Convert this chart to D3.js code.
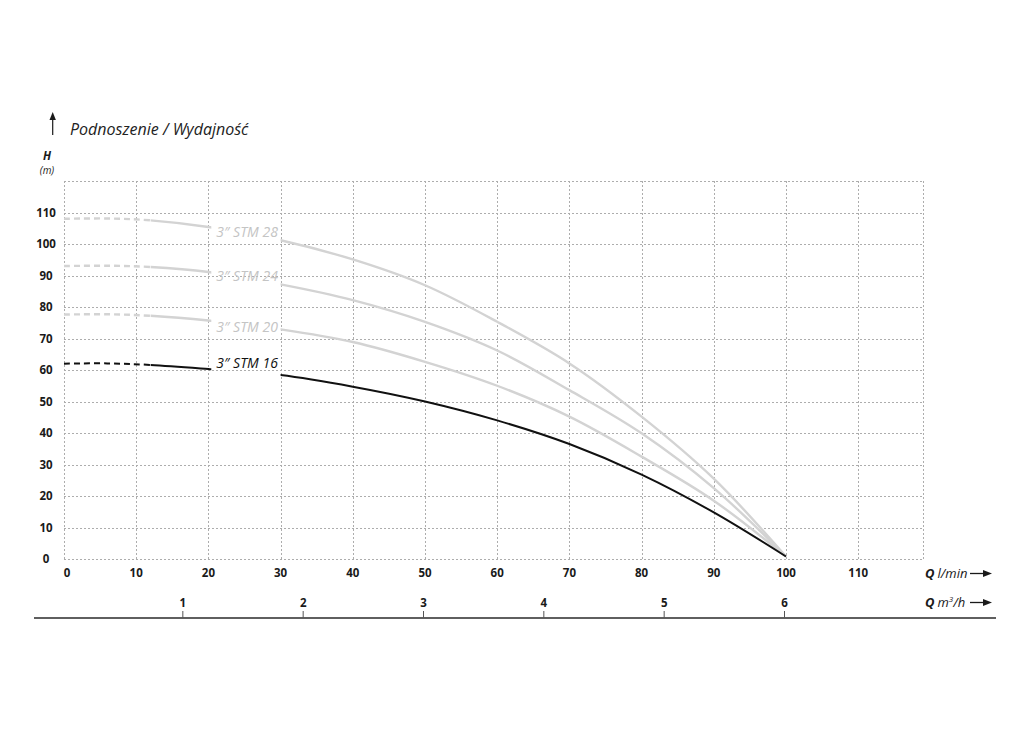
<!DOCTYPE html>
<html>
<head>
<meta charset="utf-8">
<script src="https://cdn.jsdelivr.net/npm/d3@7"></script>
<style>
  html, body { margin: 0; padding: 0; background: #fff; }
  svg { display: block; }
  text { font-family: "Open Sans", "Liberation Sans", sans-serif; }
</style>
</head>
<body>
<svg id="chart" width="1024" height="732"></svg>
<script>
// ---- data ----
const flowPoints = [0, 6, 12, 20, 30, 40, 50, 60, 70, 80, 90, 100];          // l/min
const stm16 = [62, 62.1, 61.6, 60.3, 58.4, 54.7, 50, 44, 36.5, 26.8, 14.8, 0.8];
const stm20 = [77.6, 77.7, 77.2, 75.7, 72.9, 68.9, 62.6, 55, 45.2, 32.5, 18.5, 0.8];
const stm24 = [93, 93.1, 92.7, 91.1, 87.2, 82.2, 75.3, 66.2, 53.6, 39.9, 22.5, 0.8];
const stm28 = [108, 108.1, 107.5, 105.4, 101.2, 95.1, 86.9, 75.3, 62.1, 45.2, 25.5, 0.8];
const seriesNames = ['3″ STM 28', '3″ STM 24', '3″ STM 20', '3″ STM 16'];
const labelHeads = [102.2, 88.2, 72.1, 60.5];   // label baseline in metres
const labelFlow = 21.1;                         // label start in l/min
const yTicks = [0, 10, 20, 30, 40, 50, 60, 70, 80, 90, 100, 110];
const xTicks = [0, 10, 20, 30, 40, 50, 60, 70, 80, 90, 100, 110];
const m3hTicks = [1, 2, 3, 4, 5, 6];
const title = "Podnoszenie / Wydajność";

// ---- scales ----
const svg = d3.select("#chart");
const x = d3.scaleLinear().domain([0, 100]).range([64, 786]);
const y = d3.scaleLinear().domain([0, 120]).range([559, 181]);
const xm3 = d3.scaleLinear().domain([0, 6]).range([x(0), x(100)]);
const xMax = 119;

// ---- grid ----
const grid = svg.append("g").attr("stroke", "#adadad").attr("stroke-width", 1)
  .attr("stroke-dasharray", "2,2").attr("fill", "none");
[...xTicks, xMax].forEach(v => {
  grid.append("line").attr("x1", Math.round(x(v)) + 0.5).attr("x2", Math.round(x(v)) + 0.5)
    .attr("y1", y(120)).attr("y2", y(0));
});
[...yTicks, 120].forEach(v => {
  grid.append("line").attr("y1", Math.round(y(v)) + 0.5).attr("y2", Math.round(y(v)) + 0.5)
    .attr("x1", x(0)).attr("x2", x(xMax));
});

// ---- y labels ----
svg.append("g").selectAll("text").data(yTicks).join("text")
  .attr("x", 46).attr("y", d => y(d)).attr("dy", "0.36em")
  .attr("text-anchor", "middle").attr("font-weight", "bold").attr("font-size", 11.5)
  .attr("fill", "#1a1a1a").text(d => d);

// ---- x labels ----
svg.append("g").selectAll("text").data(xTicks).join("text")
  .attr("x", d => x(d) + (d === 0 ? 3 : 0)).attr("y", 577)
  .attr("text-anchor", "middle").attr("font-weight", "bold").attr("font-size", 11.5)
  .attr("fill", "#1a1a1a").text(d => d);

// ---- secondary axis (m3/h) ----
svg.append("line").attr("x1", 34).attr("x2", 996).attr("y1", 618).attr("y2", 618)
  .attr("stroke", "#2a2a2a").attr("stroke-width", 1.5);
const m3 = svg.append("g");
m3.selectAll("line").data(m3hTicks).join("line")
  .attr("x1", d => xm3(d) - 1.5).attr("x2", d => xm3(d) - 1.5).attr("y1", 611).attr("y2", 618)
  .attr("stroke", "#555").attr("stroke-width", 1);
m3.selectAll("text").data(m3hTicks).join("text")
  .attr("x", d => xm3(d) - 1.5).attr("y", 607)
  .attr("text-anchor", "middle").attr("font-weight", "bold").attr("font-size", 11.5)
  .attr("fill", "#1a1a1a").text(d => d);

// ---- axis unit labels with arrows ----
function arrowRight(x1, x2, yy) {
  svg.append("line").attr("x1", x1).attr("x2", x2 - 6).attr("y1", yy).attr("y2", yy)
    .attr("stroke", "#1a1a1a").attr("stroke-width", 1.3);
  svg.append("path").attr("d", `M${x2},${yy} L${x2 - 9},${yy - 3.5} L${x2 - 9},${yy + 3.5} Z`)
    .attr("fill", "#1a1a1a");
}
function unitLabel(yy, unitText, sup) {
  const t = svg.append("text").attr("x", 925).attr("y", yy).attr("font-size", 13)
    .attr("fill", "#1a1a1a").attr("font-style", "italic");
  t.append("tspan").attr("font-weight", "bold").text("Q");
  t.append("tspan").attr("dx", 3).text(unitText);
  if (sup) {
    t.append("tspan").attr("font-size", 8).attr("dy", -5).text(sup);
    t.append("tspan").attr("dy", 5).text("/h");
  }
}
unitLabel(578, "l/min");
arrowRight(970, 992, 573.5);
unitLabel(607, "m", "3");
arrowRight(970, 992, 602.5);

// ---- title ----
svg.append("line").attr("x1", 52.7).attr("x2", 52.7).attr("y1", 118).attr("y2", 135)
  .attr("stroke", "#1a1a1a").attr("stroke-width", 1.2);
svg.append("path").attr("d", "M52.7,112 L49.5,120 L55.9,120 Z").attr("fill", "#1a1a1a");
svg.append("text").attr("x", 70).attr("y", 135).attr("font-size", 16)
  .attr("font-style", "italic").attr("fill", "#222").text(title);
svg.append("text").attr("x", 47).attr("y", 160).attr("font-size", 11.5)
  .attr("font-style", "italic").attr("font-weight", "bold").attr("text-anchor", "middle")
  .attr("fill", "#1a1a1a").text("H");
svg.append("text").attr("x", 47).attr("y", 174).attr("font-size", 10)
  .attr("font-style", "italic").attr("text-anchor", "middle")
  .attr("fill", "#1a1a1a").text("(m)");

// ---- curves (one smooth path, split by clip regions) ----
const defs = svg.append("defs");
const segments = [
  { id: "segDash", from: 0, to: 12, dash: "6,4" },
  { id: "segA", from: 12, to: 20.4, dash: null },
  { id: "segB", from: 30, to: 101, dash: null }
];
segments.forEach(s => {
  defs.append("clipPath").attr("id", s.id).append("rect")
    .attr("x", x(s.from)).attr("width", x(s.to) - x(s.from))
    .attr("y", 0).attr("height", 732);
});

const allSeries = [stm28, stm24, stm20, stm16];
const colors = ["#d3d3d3", "#d3d3d3", "#d3d3d3", "#111111"];
const labelColors = ["#c4c4c4", "#c4c4c4", "#c4c4c4", "#111111"];
const line = d3.line().x(d => x(d[0])).y(d => y(d[1])).curve(d3.curveCatmullRom.alpha(0.5));

allSeries.forEach((vals, i) => {
  const pts = flowPoints.map((q, j) => [q, vals[j]]);
  const g = svg.append("g").attr("fill", "none").attr("stroke", colors[i])
    .attr("stroke-width", i === 3 ? 2 : 2.4);
  segments.forEach(s => {
    g.append("path").attr("d", line(pts)).attr("clip-path", `url(#${s.id})`)
      .attr("stroke-dasharray", s.dash);
  });
  svg.append("text").attr("x", x(labelFlow)).attr("y", y(labelHeads[i]))
    .attr("font-size", 14).attr("font-style", "italic").attr("fill", labelColors[i])
    .text(seriesNames[i]);
});
</script>
</body>
</html>
